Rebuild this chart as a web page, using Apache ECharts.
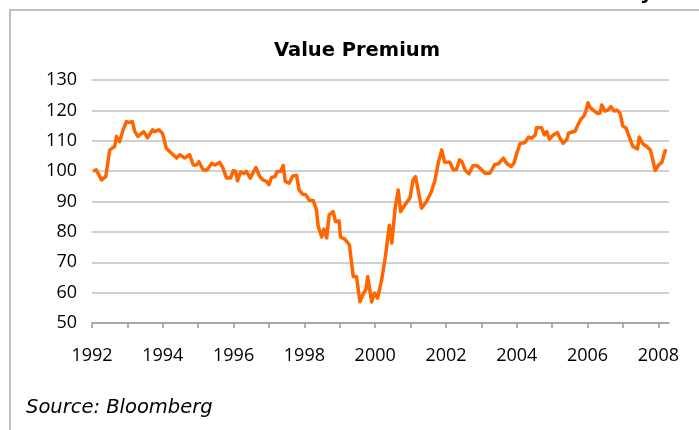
<!DOCTYPE html>
<html>
<head>
<meta charset="utf-8">
<script src="https://cdn.jsdelivr.net/npm/echarts@6/dist/echarts.min.js"></script>
<style>
    html, body { margin: 0; padding: 0; background: #fff; }
    #main { width: 699px; height: 430px; }
</style>
</head>
<body>
<div id="main"></div>
<script>
// decimal year of each traced point
let years = [
    1992.03, 1992.12, 1992.27, 1992.39, 1992.50, 1992.64, 1992.69, 1992.78, 1992.88, 1992.97,
    1993.05, 1993.14, 1993.21, 1993.30, 1993.46, 1993.57, 1993.71, 1993.77, 1993.89, 1993.99,
    1994.10, 1994.20, 1994.39, 1994.48, 1994.62, 1994.76, 1994.86, 1994.95, 1995.02, 1995.14,
    1995.25, 1995.38, 1995.47, 1995.61, 1995.70, 1995.80, 1995.91, 1995.99, 1996.06, 1996.11,
    1996.20, 1996.29, 1996.36, 1996.47, 1996.63, 1996.74, 1996.83, 1996.93, 1997.00, 1997.07,
    1997.17, 1997.23, 1997.33, 1997.40, 1997.46, 1997.57, 1997.67, 1997.78, 1997.85, 1997.95,
    1998.04, 1998.14, 1998.25, 1998.34, 1998.39, 1998.49, 1998.55, 1998.63, 1998.70, 1998.81,
    1998.88, 1998.98, 1999.02, 1999.14, 1999.27, 1999.38, 1999.47, 1999.57, 1999.66, 1999.74,
    1999.79, 1999.90, 1999.98, 2000.07, 2000.18, 2000.29, 2000.40, 2000.47, 2000.56, 2000.65,
    2000.72, 2000.84, 2000.98, 2001.07, 2001.14, 2001.31, 2001.45, 2001.59, 2001.69, 2001.78,
    2001.88, 2001.96, 2002.11, 2002.21, 2002.30, 2002.38, 2002.45, 2002.54, 2002.65, 2002.76,
    2002.88, 2003.01, 2003.10, 2003.24, 2003.38, 2003.48, 2003.62, 2003.71, 2003.84, 2003.92,
    2004.00, 2004.09, 2004.23, 2004.33, 2004.42, 2004.52, 2004.56, 2004.70, 2004.78, 2004.85,
    2004.92, 2005.03, 2005.15, 2005.22, 2005.31, 2005.41, 2005.46, 2005.55, 2005.65, 2005.74,
    2005.81, 2005.90, 2005.96, 2006.01, 2006.07, 2006.16, 2006.28, 2006.35, 2006.40, 2006.49,
    2006.57, 2006.66, 2006.75, 2006.83, 2006.92, 2006.99, 2007.09, 2007.18, 2007.28, 2007.41,
    2007.46, 2007.56, 2007.67, 2007.77, 2007.83, 2007.91, 2008.00, 2008.10, 2008.19, 2008.24
];

// value premium index
let premium = [
    100.0, 100.4, 97.1, 98.2, 107.0, 108.1, 111.4, 109.7, 113.6, 116.3,
    116.0, 116.3, 113.0, 111.4, 113.0, 111.0, 113.6, 113.0, 113.6, 112.5,
    107.5, 106.4, 104.3, 105.4, 104.3, 105.4, 102.0, 102.0, 103.1, 100.4,
    100.4, 102.6, 102.0, 102.9, 101.0, 97.7, 97.7, 100.2, 99.9, 96.8,
    99.8, 99.2, 99.9, 97.7, 101.2, 98.2, 97.1, 96.6, 95.5, 97.9,
    98.2, 99.9, 99.9, 101.9, 96.6, 96.0, 98.4, 98.6, 93.8, 92.4,
    92.2, 90.4, 90.3, 87.3, 81.8, 78.3, 80.9, 78.0, 85.6, 86.7,
    83.4, 83.6, 78.3, 77.6, 75.8, 65.3, 65.3, 57.0, 59.6, 61.0,
    65.3, 56.9, 59.9, 58.2, 64.0, 72.0, 82.2, 76.3, 87.5, 93.8,
    86.7, 88.9, 91.1, 97.1, 98.2, 87.8, 90.0, 93.3, 97.1, 102.6,
    107.0, 103.0, 102.9, 100.4, 100.6, 103.7, 103.1, 100.4, 99.1, 101.8,
    101.8, 100.4, 99.3, 99.3, 102.2, 102.4, 104.3, 102.6, 101.5, 102.6,
    105.9, 109.0, 109.4, 111.2, 110.8, 111.9, 114.3, 114.3, 111.9, 113.0,
    110.5, 111.9, 112.7, 110.8, 109.2, 110.3, 112.5, 112.8, 113.2, 115.5,
    117.1, 118.2, 120.1, 122.5, 121.0, 120.1, 119.0, 119.1, 121.8, 119.8,
    120.1, 121.2, 119.8, 120.1, 119.0, 114.9, 114.1, 111.2, 108.1, 107.3,
    111.2, 109.0, 108.1, 107.0, 104.3, 100.2, 102.0, 102.9, 106.7, 106.7
];

let yTicks = [50, 60, 70, 80, 90, 100, 110, 120, 130];
let xLabels = [1992, 1994, 1996, 1998, 2000, 2002, 2004, 2006, 2008];

let seriesData = [];
for (let i = 0; i < years.length; i++) {
    seriesData.push([years[i], premium[i]]);
}

let myChart = echarts.init(document.getElementById('main'), null, { renderer: 'canvas' });

let option = {
    backgroundColor: '#ffffff',
    animation: false,
    title: {
        text: 'Value Premium',
        left: 352,
        top: 36,
        textAlign: 'center',
        textStyle: {
            fontFamily: 'DejaVu Sans',
            fontWeight: 'bold',
            fontSize: 19.5,
            color: '#000'
        }
    },
    grid: {
        left: 92,
        right: 30,
        top: 80,
        bottom: 107,
        containLabel: false
    },
    xAxis: {
        type: 'value',
        min: 1992,
        max: 2008.3,
        interval: 1,
        axisLine: { show: true, lineStyle: { color: '#999999', width: 1.5 } },
        axisTick: { show: true, length: 5, lineStyle: { color: '#999999', width: 1.5 } },
        splitLine: { show: false },
        axisLabel: {
            showMaxLabel: false,
            margin: 24,
            fontFamily: 'Open Sans',
            fontSize: 18,
            color: '#000',
            formatter: function (v) {
                return xLabels.indexOf(v) >= 0 ? String(v) : '';
            }
        }
    },
    yAxis: {
        type: 'value',
        min: yTicks[0],
        max: yTicks[yTicks.length - 1],
        interval: 10,
        axisLine: { show: false },
        axisTick: { show: false },
        splitLine: { show: true, lineStyle: { color: '#c0c0c0', width: 1.5 } },
        axisLabel: {
            margin: 15,
            fontFamily: 'Open Sans',
            fontSize: 18,
            color: '#000'
        }
    },
    series: [
        {
            name: 'Value Premium',
            type: 'line',
            data: seriesData,
            showSymbol: false,
            lineStyle: { color: '#ff6600', width: 3.5, join: 'round' },
            z: 3
        }
    ],
    graphic: [
        {
            type: 'rect',
            shape: { x: 10, y: 10, width: 720, height: 460 },
            style: { fill: 'none', stroke: '#c0c0c0', lineWidth: 2 },
            silent: true
        },
        {
            type: 'text',
            left: 26,
            top: 398,
            style: {
                text: 'Source: Bloomberg',
                fontFamily: 'DejaVu Sans',
                fontStyle: 'italic',
                fontSize: 19.5,
                fill: '#000'
            }
        },
        {
            type: 'text',
            left: 640,
            top: -16,
            style: {
                text: 'y',
                fontFamily: 'DejaVu Sans',
                fontWeight: 'bold',
                fontSize: 20,
                fill: '#000'
            }
        }
    ]
};

myChart.setOption(option);
</script>
</body>
</html>
